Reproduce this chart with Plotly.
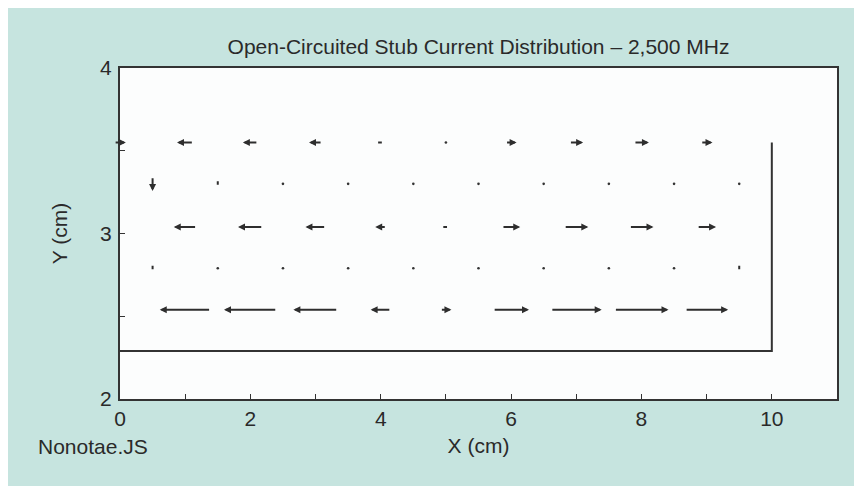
import plotly.graph_objects as go
import math

# ---------------- data ----------------
title_text = "Open-Circuited Stub Current Distribution \u2013 2,500 MHz"
x_tick_vals = [0, 2, 4, 6, 8, 10]
x_tick_text = ["0", "2", "4", "6", "8", "10"]
y_tick_vals = [2, 3, 4]
y_tick_text = ["2", "3", "4"]

# stub outline (cm)
stub_x = [0, 10, 10]
stub_y = [2.29, 2.29, 3.55]

# horizontal-current rows: grid x positions and signed x-component (cm); None = no mark
hx_grid = [0, 1, 2, 3, 4, 5, 6, 7, 8, 9]
row1_y = 3.55
row1_u = [0.18, -0.25, -0.23, -0.20, -0.08, 0.0, 0.17, 0.21, 0.23, 0.18]
row3_y = 3.04
row3_u = [None, -0.35, -0.38, -0.31, -0.17, -0.08, 0.28, 0.37, 0.37, 0.29]
row5_y = 2.54
row5_u = [None, -0.78, -0.81, -0.68, -0.31, 0.17, 0.55, 0.78, 0.83, 0.66]

# vertical-current rows: grid x positions and signed y-component (cm)
vx_grid = [0.5, 1.5, 2.5, 3.5, 4.5, 5.5, 6.5, 7.5, 8.5, 9.5]
row2_y = 3.30
row2_v = [-0.085, 0.03, 0, 0, 0, 0, 0, 0, 0, 0]
row4_y = 2.79
row4_v = [0.03, 0, 0, 0, 0, 0, 0, 0, 0, 0.03]

# ---------------- style ----------------
TEAL = "#c6e4df"
INK = "#2a2a2a"
FONT = "Liberation Sans, Arial, Helvetica, sans-serif"
W, H = 854, 478

fig = go.Figure()

fig.add_trace(go.Scatter(x=stub_x, y=stub_y, mode="lines",
                         line=dict(color="#333333", width=2),
                         hoverinfo="skip", showlegend=False))

annotations = []
dot_x, dot_y = [], []


def add_vec(x0, y0, dx, dy):
    mag_px = math.hypot(dx * 65.2, dy * 165.5)
    if mag_px < 1e-9:
        dot_x.append(x0)
        dot_y.append(y0)
        return
    head = 2 if mag_px >= 8 else 0
    annotations.append(dict(
        x=x0 + dx / 2, y=y0 + dy / 2, ax=x0 - dx / 2, ay=y0 - dy / 2,
        xref="x", yref="y", axref="x", ayref="y",
        text="", showarrow=True, arrowhead=head, arrowsize=0.7,
        arrowwidth=2.0, arrowcolor="#2e2e2e", standoff=0, startstandoff=0))


for ry, us in [(row1_y, row1_u), (row3_y, row3_u), (row5_y, row5_u)]:
    for gx, u in zip(hx_grid, us):
        if u is None:
            continue
        add_vec(gx, ry, u, 0)
for ry, vs in [(row2_y, row2_v), (row4_y, row4_v)]:
    for gx, v in zip(vx_grid, vs):
        add_vec(gx, ry, 0, v)

fig.add_trace(go.Scatter(x=dot_x, y=dot_y, mode="markers",
                         marker=dict(color="#333333", size=2.6),
                         hoverinfo="skip", showlegend=False))

annotations.append(dict(text="Nonotae.JS", xref="paper", yref="paper",
                        x=-0.117, y=-0.145, xanchor="left", yanchor="middle",
                        showarrow=False, font=dict(size=21, color=INK, family=FONT)))

fig.update_layout(
    width=W, height=H,
    margin=dict(l=112, r=25, t=60, b=87),
    paper_bgcolor=TEAL,
    plot_bgcolor="#fcfdfd",
    font=dict(family=FONT, size=21, color=INK),
    title=dict(text=title_text, x=0.5, xref="paper", xanchor="center",
               y=1 - 39 / H, yref="container", yanchor="middle",
               font=dict(size=21, color=INK, family=FONT)),
    showlegend=False,
    annotations=annotations,
    xaxis=dict(range=[0, 11], tickvals=x_tick_vals, ticktext=x_tick_text,
               ticks="inside", ticklen=5, tickwidth=1.2, tickcolor="#333333",
               minor=dict(dtick=1, tick0=0, ticks="inside", ticklen=5, tickwidth=1.2,
                          tickcolor="#333333", showgrid=False),
               showgrid=False, zeroline=False, showline=True, mirror=True,
               linecolor="#333333", linewidth=2,
               title=dict(text="X (cm)", standoff=9, font=dict(size=21)),
               tickfont=dict(size=21)),
    yaxis=dict(range=[2, 4], tickvals=y_tick_vals, ticktext=y_tick_text,
               ticks="inside", ticklen=5, tickwidth=1.2, tickcolor="#333333",
               minor=dict(dtick=0.5, tick0=2, ticks="inside", ticklen=5, tickwidth=1.2,
                          tickcolor="#333333", showgrid=False),
               showgrid=False, zeroline=False, showline=True, mirror=True,
               linecolor="#333333", linewidth=2, ticklabelstandoff=2,
               title=dict(text="Y (cm)", standoff=27, font=dict(size=21)),
               tickfont=dict(size=21)),
)

fig.write_html("out.html")
